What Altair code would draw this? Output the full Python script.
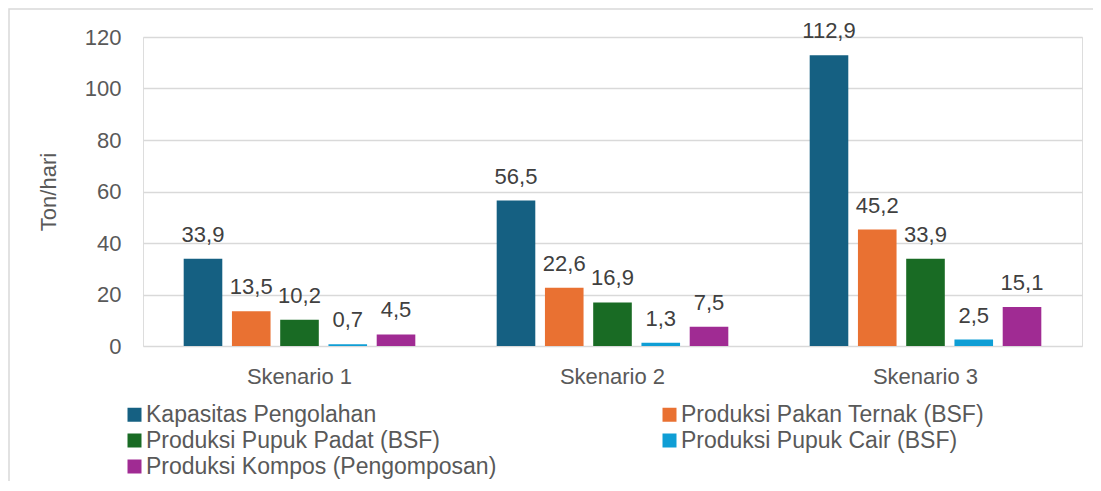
import altair as alt
import pandas as pd

categories = ["Skenario 1", "Skenario 2", "Skenario 3"]
series = [
    "Kapasitas Pengolahan",
    "Produksi Pakan Ternak (BSF)",
    "Produksi Pupuk Padat (BSF)",
    "Produksi Pupuk Cair (BSF)",
    "Produksi Kompos (Pengomposan)",
]
kapasitas = [33.9, 56.5, 112.9]
pakan = [13.5, 22.6, 45.2]
pupuk_padat = [10.2, 16.9, 33.9]
pupuk_cair = [0.7, 1.3, 2.5]
kompos = [4.5, 7.5, 15.1]
colors = ["#156082", "#E97132", "#196B24", "#0F9ED5", "#A02B93"]
y_ticks = [0, 20, 40, 60, 80, 100, 120]

values_by_series = [kapasitas, pakan, pupuk_padat, pupuk_cair, kompos]
rows = []
for s, vals in zip(series, values_by_series):
    for c, v in zip(categories, vals):
        rows.append({"Skenario": c, "Seri": s, "Nilai": v,
                     "Label": f"{v:.1f}".replace(".", ",")})
df = pd.DataFrame(rows)

# legend is laid out column by column, so order entries to read row by row
legend_order = [0, 2, 4, 1, 3]
legend_domain = [series[i] for i in legend_order]
legend_colors = [colors[i] for i in legend_order]

FONT = "Liberation Sans"
FS = 22

x_enc = alt.X("Skenario:N", sort=categories,
              scale=alt.Scale(paddingInner=0.26, paddingOuter=0.13),
              axis=alt.Axis(title=None, labelAngle=0, ticks=False, domain=False,
                            labelPadding=20, labelFontSize=FS, labelColor="#595959",
                            labelFont=FONT))
xoff_enc = alt.XOffset("Seri:N", sort=series,
                       scale=alt.Scale(paddingInner=0.2, paddingOuter=0))
y_enc = alt.Y("Nilai:Q",
              scale=alt.Scale(domain=[0, 120], nice=False),
              axis=alt.Axis(title="Ton/hari", values=y_ticks, ticks=False, domain=False,
                            labelPadding=22, labelFontSize=FS, labelColor="#595959",
                            labelFont=FONT, titleFont=FONT, titleFontSize=FS,
                            titleColor="#595959", titleFontWeight="normal",
                            titlePadding=24, gridColor="#D9D9D9", gridWidth=1.4))

color_enc = alt.Color("Seri:N",
                      scale=alt.Scale(domain=legend_domain, range=legend_colors),
                      legend=alt.Legend(title=None, orient="none", legendX=-20, legendY=366,
                                        columns=2, columnPadding=161, rowPadding=2,
                                        symbolType="square", symbolSize=196,
                                        symbolStrokeWidth=0, labelOffset=0,
                                        labelFontSize=23, labelFont=FONT,
                                        labelColor="#595959", labelLimit=600))

bars = alt.Chart(df).mark_bar().encode(
    x=x_enc, xOffset=xoff_enc, y=y_enc, color=color_enc
)

labels = alt.Chart(df).mark_text(
    baseline="alphabetic", dy=-17, fontSize=FS, font=FONT, color="#404040"
).encode(
    x=alt.X("Skenario:N", sort=categories), xOffset=alt.XOffset("Seri:N", sort=series),
    y="Nilai:Q", text="Label:N"
)

frame = alt.Chart(alt.Data(values=[{}])).mark_rect(
    fill=None, stroke="#D9D9D9", strokeWidth=1.5
).encode(
    x=alt.value(-134), x2=alt.value(1300), y=alt.value(-28), y2=alt.value(700)
)

chart = alt.layer(frame, bars, labels).properties(
    width=939, height=309,
    padding={"left": 135, "top": 29, "right": 11, "bottom": 135},
    autosize=alt.AutoSizeParams(type="none"),
).configure_view(stroke=None).configure(background="white")

chart.save("out.html", embed_options={"renderer": "svg", "actions": False})
